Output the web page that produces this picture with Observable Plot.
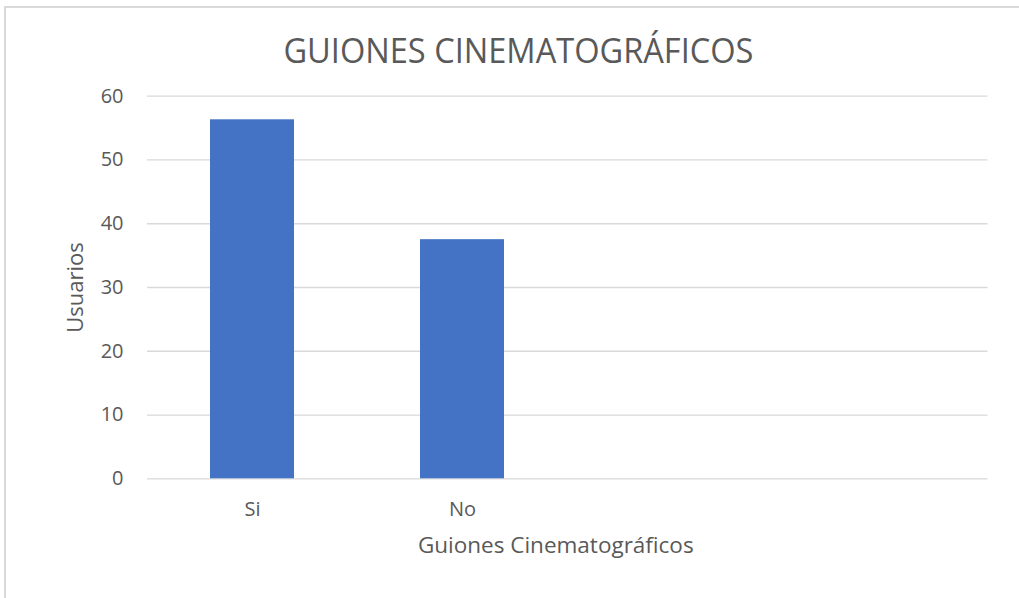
<!DOCTYPE html>
<html>
<head>
<meta charset="utf-8">
<script src="https://cdn.jsdelivr.net/npm/d3@7"></script>
<script src="https://cdn.jsdelivr.net/npm/@observablehq/plot@0.6"></script>
<style>
  html, body { margin: 0; padding: 0; background: #fff; overflow: hidden; }
  #wrap { position: relative; width: 1019px; height: 598px; overflow: hidden; font-family: "Open Sans", sans-serif; }
  #frame { position: absolute; left: 4px; top: 6px; width: 1040px; height: 620px; border: 2px solid #d9d9d9; box-sizing: border-box; }
  #title { position: absolute; left: 9px; top: 28px; width: 1019px; text-align: center; font-size: 34px; font-weight: 400; color: #595959; line-height: 44px; white-space: nowrap; }
  #title span { display: inline-block; transform-origin: center; }
  #chart { position: absolute; left: 0; top: 80px; }
</style>
</head>
<body>
<div id="wrap">
  <div id="frame"></div>
  <div id="title"><span>GUIONES CINEMATOGRÁFICOS</span></div>
  <div id="chart"></div>
</div>
<script>
const categories = ["Si", "No", "cat3", "cat4"];
const shownLabels = ["Si", "No"];
const barCategories = ["Si", "No"];
const usuarios = [56.3, 37.5];
const yTicks = [0, 10, 20, 30, 40, 50, 60];
const titleText = "GUIONES CINEMATOGRÁFICOS";
const xTitle = "Guiones Cinematográficos";
const yTitle = "Usuarios";

const data = barCategories.map((c, i) => ({ categoria: c, usuarios: usuarios[i] }));

const chart = Plot.plot({
  width: 1019,
  height: 518,
  marginLeft: 147,
  marginRight: 31.5,
  marginTop: 15.7,
  marginBottom: 119.7,
  style: { fontFamily: "Open Sans, sans-serif", fontSize: "20px", color: "#595959", background: "transparent" },
  x: { domain: categories, paddingInner: 0.6, paddingOuter: 0.3 },
  y: { domain: [0, 60] },
  marks: [
    Plot.gridY(yTicks, { stroke: "#d9d9d9", strokeOpacity: 1, strokeWidth: 1.3 }),
    Plot.barY(data, { x: "categoria", y: "usuarios", fill: "#4472C4" }),
    Plot.axisY(yTicks, { tickSize: 0, tickPadding: 24, label: null, fill: "#595959", fontSize: 20 }),
    Plot.axisY([], { label: yTitle, labelAnchor: "center", labelArrow: "none", labelOffset: 80, fill: "#595959", fontSize: 22 }),
    Plot.axisX({ ticks: shownLabels, tickSize: 0, tickPadding: 23, label: null, fill: "#595959", fontSize: 20 }),
    Plot.text([xTitle], { frameAnchor: "bottom", lineAnchor: "middle", dy: 67, dx: -12, fill: "#595959", fontSize: 22.5 })
  ]
});
document.getElementById("chart").appendChild(chart);

// fit title width to reference proportions
const span = document.querySelector("#title span");
span.textContent = titleText;
const w = span.getBoundingClientRect().width;
span.style.transform = `scaleX(${470 / w})`;
</script>
</body>
</html>
